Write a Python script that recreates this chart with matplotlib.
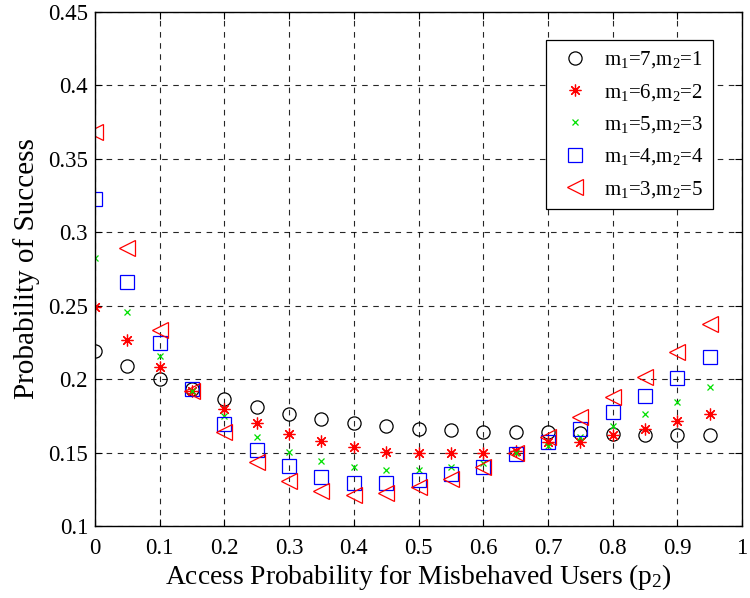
import numpy as np
import matplotlib
matplotlib.use("Agg")
import matplotlib.pyplot as plt

plt.rcParams['font.family'] = ['Liberation Serif', 'DejaVu Serif']
plt.rcParams['mathtext.fontset'] = 'custom'
plt.rcParams['mathtext.rm'] = 'Liberation Serif'
plt.rcParams['mathtext.it'] = 'Liberation Serif'

# access probability of misbehaved users
p2 = [0, 0.05, 0.1, 0.15, 0.2, 0.25, 0.3, 0.35, 0.4, 0.45,
      0.5, 0.55, 0.6, 0.65, 0.7, 0.75, 0.8, 0.85, 0.9, 0.95]

# success probability for each (m1, m2) split
ps_7_1 = [0.219, 0.209, 0.200, 0.193, 0.1865, 0.181, 0.1763, 0.1729, 0.1702, 0.168,
          0.166, 0.1654, 0.164, 0.164, 0.164, 0.1634, 0.1627, 0.162, 0.162, 0.162]
ps_6_2 = [0.249, 0.2267, 0.2083, 0.192, 0.180, 0.170, 0.1627, 0.158, 0.1538, 0.1504,
          0.1497, 0.1497, 0.150, 0.151, 0.157, 0.157, 0.162, 0.166, 0.1715, 0.1763]
ps_5_3 = [0.2826, 0.246, 0.2158, 0.192, 0.175, 0.1607, 0.1504, 0.1443, 0.1402, 0.138,
          0.138, 0.1402, 0.143, 0.1497, 0.1545, 0.1607, 0.168, 0.1763, 0.1845, 0.1947]
ps_4_4 = [0.323, 0.266, 0.2247, 0.193, 0.1695, 0.1518, 0.1409, 0.1334, 0.1293, 0.1293,
          0.1313, 0.1354, 0.140, 0.149, 0.157, 0.166, 0.1777, 0.1886, 0.2008, 0.2151]
ps_3_5 = [0.368, 0.289, 0.2335, 0.192, 0.164, 0.1436, 0.1307, 0.1238, 0.121, 0.1224,
          0.1266, 0.132, 0.140, 0.150, 0.1607, 0.1743, 0.1879, 0.2015, 0.2185, 0.2376]

labels = ['m$_1$=7,m$_2$=1', 'm$_1$=6,m$_2$=2', 'm$_1$=5,m$_2$=3',
          'm$_1$=4,m$_2$=4', 'm$_1$=3,m$_2$=5']

fig = plt.figure(figsize=(7.5, 5.98), dpi=100)
ax = fig.add_axes([95/750, 1 - 526/598, (742-95)/750, (526-12)/598])

ax.plot(p2, ps_7_1, 'o', mfc='none', mec='black', ms=9.5, mew=0.9, label=labels[0])
ax.plot(p2, ps_6_2, ls='none', marker=(8, 2, 0), color='red', ms=8.5, mew=0.9, label=labels[1])
ax.plot(p2, ps_5_3, 'x', color='#00e000', ms=5, mew=0.9, label=labels[2])
ax.plot(p2, ps_4_4, 's', mfc='none', mec='blue', ms=9.5, mew=0.9, label=labels[3])
ax.plot(p2, ps_3_5, '<', mfc='none', mec='red', ms=11, mew=0.9, label=labels[4])

ax.set_xlim(0, 1)
ax.set_ylim(0.1, 0.45)
ax.set_xticks(np.arange(0, 1.01, 0.1))
ax.set_xticklabels(['0', '0.1', '0.2', '0.3', '0.4', '0.5', '0.6', '0.7', '0.8', '0.9', '1'])
ax.set_yticks(np.arange(0.1, 0.451, 0.05))
ax.set_yticklabels(['0.1', '0.15', '0.2', '0.25', '0.3', '0.35', '0.4', '0.45'])
ax.tick_params(direction='in', top=True, right=True, labelsize=16.5, length=5, width=0.8)
ax.tick_params(axis='x', pad=9)
ax.tick_params(axis='y', pad=5)
ax.grid(True, color='black', linestyle=(0, (5, 5)), linewidth=0.8, alpha=0.85)
for s in ax.spines.values():
    s.set_linewidth(1.0)

ax.set_xlabel('Access Probability for Misbehaved Users (p$_2$)', fontsize=19.8, labelpad=2)
ax.set_ylabel('Probability of Success', fontsize=21, labelpad=6)

leg = ax.legend(loc='upper right', bbox_to_anchor=(0.955, 0.9455), borderaxespad=0,
                fontsize=15, frameon=True, fancybox=False, edgecolor='black',
                framealpha=1, handletextpad=0.5, borderpad=0.45, labelspacing=0.55,
                handlelength=1.8)
leg.get_frame().set_linewidth(0.9)

fig.savefig('out.png', dpi=100)
